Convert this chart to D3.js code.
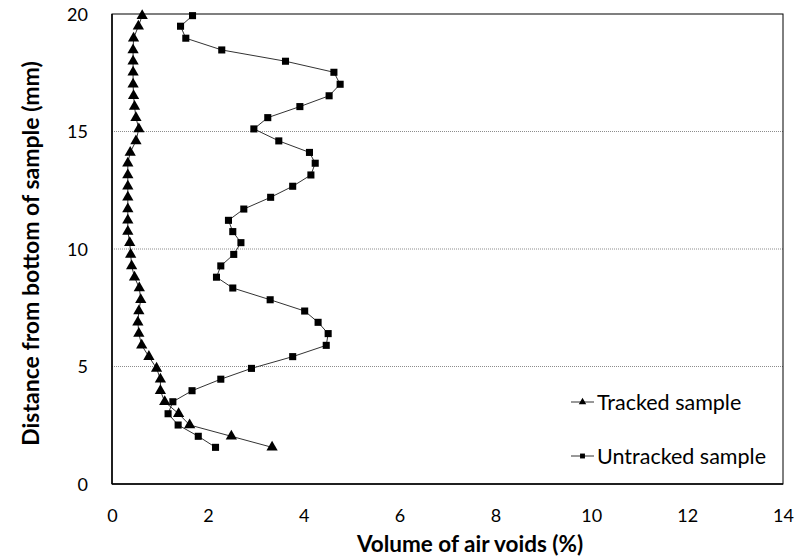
<!DOCTYPE html>
<html><head><meta charset="utf-8">
<script src="https://cdn.jsdelivr.net/npm/d3@7"></script>
<style>body{margin:0;background:#fff}svg{display:block}text{font-family:Lato,"Open Sans",sans-serif}</style>
</head><body><svg id="c" width="804" height="559"></svg>
<script>
const depth = [19.93,19.48,18.97,18.47,17.99,17.52,17.01,16.52,16.06,15.59,15.11,14.60,14.11,13.65,13.15,12.67,12.20,11.70,11.22,10.74,10.27,9.77,9.28,8.80,8.34,7.84,7.36,6.88,6.40,5.90,5.42,4.92,4.46,3.97,3.50,2.99,2.51,2.03,1.56];
const tracked = [0.63,0.55,0.45,0.44,0.44,0.44,0.44,0.45,0.47,0.50,0.56,0.50,0.38,0.33,0.33,0.33,0.33,0.33,0.33,0.33,0.37,0.39,0.41,0.47,0.57,0.60,0.56,0.54,0.56,0.62,0.77,0.93,1.01,1.01,1.10,1.39,1.62,2.49,3.34];
const untracked = [1.68,1.43,1.54,2.29,3.62,4.63,4.76,4.53,3.92,3.25,2.96,3.48,4.12,4.24,4.15,3.77,3.31,2.75,2.43,2.52,2.69,2.54,2.27,2.18,2.52,3.30,4.02,4.30,4.51,4.47,3.77,2.91,2.27,1.67,1.27,1.17,1.38,1.80,2.16];
const xTicks = [0,2,4,6,8,10,12,14];
const yTicks = [0,5,10,15,20];
const seriesNames = ["Tracked sample","Untracked sample"];

const svg = d3.select("#c");
const L=112,R=783,T=14,B=484;
const x = d3.scaleLinear().domain([0,14]).range([L,R]);
const y = d3.scaleLinear().domain([0,20]).range([B,T]);

// gridlines
svg.append("g").selectAll("line").data(yTicks.filter(d=>d>0&&d<20)).join("line")
  .attr("x1",L).attr("x2",R).attr("y1",d=>y(d)).attr("y2",d=>y(d))
  .attr("stroke","#8c8c8c").attr("stroke-width",1).attr("stroke-dasharray","1,1");

// frame
svg.append("rect").attr("x",L).attr("y",T).attr("width",R-L).attr("height",B-T)
  .attr("fill","none").attr("stroke","#000").attr("stroke-width",1);
svg.append("line").attr("x1",L).attr("x2",L).attr("y1",T).attr("y2",B).attr("stroke","#000").attr("stroke-width",1.5);
svg.append("line").attr("x1",L).attr("x2",R).attr("y1",B).attr("y2",B).attr("stroke","#000").attr("stroke-width",1.5);

// axes
const xa = svg.append("g").attr("transform",`translate(0,${B})`)
  .call(d3.axisBottom(x).tickValues(xTicks).tickSize(0).tickPadding(0).tickFormat(d3.format("d")));
xa.select(".domain").remove();
xa.selectAll("text").attr("y",38).attr("dy",0).attr("font-size",18).attr("fill","#000");
const ya = svg.append("g").attr("transform",`translate(${L},0)`)
  .call(d3.axisLeft(y).tickValues(yTicks).tickSize(0).tickPadding(0).tickFormat(d3.format("d")));
ya.select(".domain").remove();
ya.selectAll("text").attr("x",-24).attr("dy","0.36em").attr("font-size",18).attr("fill","#000");

svg.append("text").attr("x",470).attr("y",552).attr("text-anchor","middle")
  .attr("font-size",22.5).attr("font-weight","bold").text("Volume of air voids (%)");
svg.append("text").attr("transform","translate(39,253.5) rotate(-90)").attr("text-anchor","middle")
  .attr("font-size",23).attr("font-weight","bold").text("Distance from bottom of sample (mm)");

const line = d3.line().x(d=>x(d[0])).y(d=>y(d[1]));
const tri = d3.symbol().type(d3.symbolTriangle).size(55);
const sq = d3.symbol().type(d3.symbolSquare).size(50);
const tData = tracked.map((v,i)=>[v,depth[i]]);
const uData = untracked.map((v,i)=>[v,depth[i]]);

svg.append("path").datum(tData).attr("d",line).attr("fill","none").attr("stroke","#333").attr("stroke-width",1);
svg.append("path").datum(uData).attr("d",line).attr("fill","none").attr("stroke","#333").attr("stroke-width",1);
svg.append("g").selectAll("path").data(tData).join("path").attr("d",tri)
  .attr("transform",d=>`translate(${x(d[0])},${y(d[1])})`).attr("fill","#000");
svg.append("g").selectAll("path").data(uData).join("path").attr("d",sq)
  .attr("transform",d=>`translate(${x(d[0])},${y(d[1])})`).attr("fill","#000");

// legend
const lg = [[seriesNames[0],d3.symbolTriangle,402],[seriesNames[1],d3.symbolSquare,456]];
lg.forEach(([name,type,ly])=>{
  svg.append("line").attr("x1",571).attr("x2",594).attr("y1",ly).attr("y2",ly).attr("stroke","#333");
  svg.append("path").attr("d",d3.symbol().type(type).size(24)).attr("transform",`translate(582.5,${ly})`).attr("fill","#000");
  svg.append("text").attr("x",597).attr("y",ly).attr("dy","0.36em").attr("font-size",21.5).text(name);
});
</script></body></html>
